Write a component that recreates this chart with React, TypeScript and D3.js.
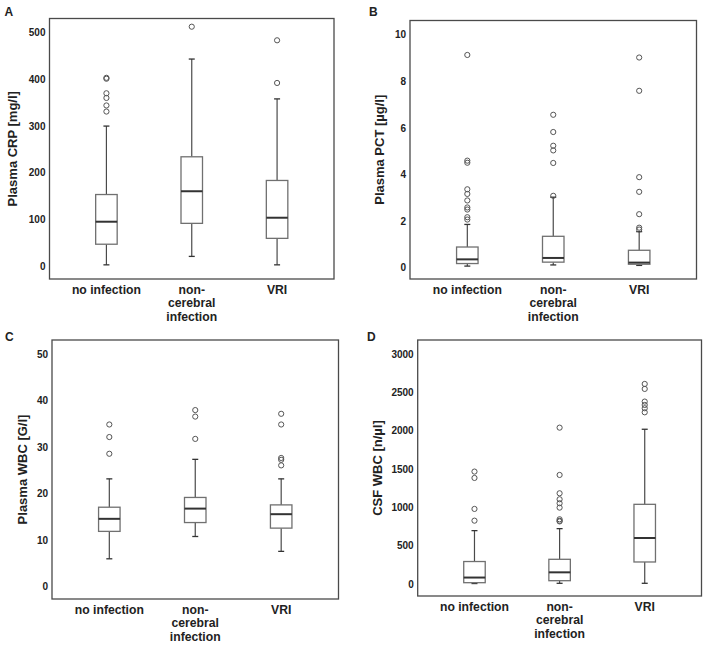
import React from "react";
import * as d3 from "d3";

// ---------- data ----------
const categories = ["no infection", "non-cerebral infection", "VRI"];
const categoryLines = [["no infection"], ["non-", "cerebral", "infection"], ["VRI"]];

// Panel A: Plasma CRP [mg/l]
const crpLow = [4, 22, 4];
const crpQ1 = [48, 92.5, 60.5];
const crpMedian = [96, 161, 104.5];
const crpQ3 = [154, 234.5, 184];
const crpHigh = [300, 443, 358];
const crpOutliers = [[403, 401, 370, 360, 344, 331], [512], [483, 392]];
const crpTicks = [0, 100, 200, 300, 400, 500];

// Panel B: Plasma PCT [µg/l]
const pctLow = [0.07, 0.12, 0.1];
const pctQ1 = [0.18, 0.24, 0.15];
const pctMedian = [0.36, 0.42, 0.22];
const pctQ3 = [0.89, 1.35, 0.75];
const pctHigh = [1.86, 3.03, 1.55];
const pctOutliers = [
  [9.14, 4.6, 4.51, 3.37, 3.17, 2.89, 2.59, 2.5, 2.17, 2.07],
  [6.57, 5.83, 5.24, 5.04, 4.5, 3.09],
  [9.03, 7.6, 3.89, 3.26, 2.3, 1.72, 1.64],
];
const pctTicks = [0, 2, 4, 6, 8, 10];

// Panel C: Plasma WBC [G/l]
const wbcLow = [6.0, 10.8, 7.6];
const wbcQ1 = [11.9, 13.8, 12.6];
const wbcMedian = [14.6, 16.8, 15.6];
const wbcQ3 = [17.1, 19.2, 17.6];
const wbcHigh = [23.2, 27.4, 23.2];
const wbcOutliers = [[34.9, 32.2, 28.6], [38.0, 36.6, 31.8], [37.2, 34.9, 27.7, 27.3, 26.1]];
const wbcTicks = [0, 10, 20, 30, 40, 50];

// Panel D: CSF WBC [n/µl]
const csfLow = [10, 13, 13];
const csfQ1 = [21, 47, 291];
const csfMedian = [88, 156, 604];
const csfQ3 = [297, 326, 1043];
const csfHigh = [700, 726, 2022];
const csfOutliers = [
  [1470, 1387, 983, 830],
  [2043, 1426, 1187, 1109, 1057, 1000, 848, 828, 820],
  [2613, 2548, 2383, 2339, 2296, 2243],
];
const csfTicks = [0, 500, 1000, 1500, 2000, 2500, 3000];

// ---------- drawing ----------
const FONT = "'Liberation Sans', Arial, Helvetica, sans-serif";
const TEXT = "#222";

type PanelProps = {
  letter: string;
  letterX: number;
  letterY: number;
  title: string;
  titleX: number;
  x0: number;
  x1: number;
  y0: number;
  y1: number;
  domain: [number, number];
  ticks: number[];
  low: number[];
  q1: number[];
  median: number[];
  q3: number[];
  high: number[];
  outliers: number[][];
};

function Panel(p: PanelProps) {
  const x = d3.scalePoint<string>().domain(categories).range([p.x0, p.x1]).padding(0.667);
  const y = d3.scaleLinear().domain(p.domain).range([p.y1, p.y0]);
  const bw = 21.5;
  const cap = 3;
  return (
    <g>
      <text x={p.letterX} y={p.letterY} fontFamily={FONT} fontWeight="bold" fontSize={12} fill={TEXT}>
        {p.letter}
      </text>
      <rect x={p.x0} y={p.y0} width={p.x1 - p.x0} height={p.y1 - p.y0} fill="white" stroke="#4a4a4a" strokeWidth={1.3} />
      {p.ticks.map((t) => (
        <text key={t} x={p.x0 - 4} y={y(t)} dy="0.35em" textAnchor="end" fontFamily={FONT} fontWeight="bold" fontSize={10} fill={TEXT}>
          {t}
        </text>
      ))}
      <text
        transform={`translate(${p.titleX},${(p.y0 + p.y1) / 2}) rotate(-90)`}
        dy="0.35em"
        textAnchor="middle"
        fontFamily={FONT}
        fontWeight="bold"
        fontSize={13}
        fill={TEXT}
      >
        {p.title}
      </text>
      {categories.map((c, i) => {
        const cx = x(c) as number;
        return (
          <g key={c}>
            <line x1={cx} x2={cx} y1={y(p.high[i])} y2={y(p.q3[i])} stroke="#4a4a4a" strokeWidth={1.2} />
            <line x1={cx} x2={cx} y1={y(p.q1[i])} y2={y(p.low[i])} stroke="#4a4a4a" strokeWidth={1.2} />
            <line x1={cx - cap} x2={cx + cap} y1={y(p.high[i])} y2={y(p.high[i])} stroke="#333" strokeWidth={1.3} />
            <line x1={cx - cap} x2={cx + cap} y1={y(p.low[i])} y2={y(p.low[i])} stroke="#333" strokeWidth={1.3} />
            <rect
              x={cx - bw / 2}
              y={y(p.q3[i])}
              width={bw}
              height={y(p.q1[i]) - y(p.q3[i])}
              fill="white"
              stroke="#707070"
              strokeWidth={1.3}
            />
            <line x1={cx - bw / 2} x2={cx + bw / 2} y1={y(p.median[i])} y2={y(p.median[i])} stroke="#333" strokeWidth={2} />
            {p.outliers[i].map((o, j) => (
              <circle key={j} cx={cx} cy={y(o)} r={2.6} fill="none" stroke="#555" strokeWidth={1} />
            ))}
            {categoryLines[i].map((l, k) => (
              <text
                key={k}
                x={cx}
                y={p.y1 + 14.5 + k * 13.7}
                textAnchor="middle"
                fontFamily={FONT}
                fontWeight="bold"
                fontSize={12.2}
                fill={TEXT}
              >
                {l}
              </text>
            ))}
          </g>
        );
      })}
    </g>
  );
}

export default function App() {
  return (
    <svg width={708} height={648} style={{ position: "absolute", left: 0, top: 0, background: "white" }}>
      <rect x={0} y={0} width={708} height={648} fill="white" />
      <Panel
        letter="A" letterX={4.5} letterY={15.5} title="Plasma CRP [mg/l]" titleX={12.7}
        x0={49.5} x1={334} y0={18.5} y1={279} domain={[-26.2, 529.5]} ticks={crpTicks}
        low={crpLow} q1={crpQ1} median={crpMedian} q3={crpQ3} high={crpHigh} outliers={crpOutliers}
      />
      <Panel
        letter="B" letterX={369} letterY={15.5} title="Plasma PCT [µg/l]" titleX={379}
        x0={410} x1={696.5} y0={20.5} y1={279} domain={[-0.484, 10.62]} ticks={pctTicks}
        low={pctLow} q1={pctQ1} median={pctMedian} q3={pctQ3} high={pctHigh} outliers={pctOutliers}
      />
      <Panel
        letter="C" letterX={5} letterY={340.5} title="Plasma WBC [G/l]" titleX={22.7}
        x0={52} x1={338.5} y0={340} y1={599} domain={[-2.65, 53.08]} ticks={wbcTicks}
        low={wbcLow} q1={wbcQ1} median={wbcMedian} q3={wbcQ3} high={wbcHigh} outliers={wbcOutliers}
      />
      <Panel
        letter="D" letterX={367} letterY={340.5} title="CSF WBC [n/µl]" titleX={377.3}
        x0={417.7} x1={701.5} y0={340} y1={596} domain={[-152.6, 3186]} ticks={csfTicks}
        low={csfLow} q1={csfQ1} median={csfMedian} q3={csfQ3} high={csfHigh} outliers={csfOutliers}
      />
    </svg>
  );
}
